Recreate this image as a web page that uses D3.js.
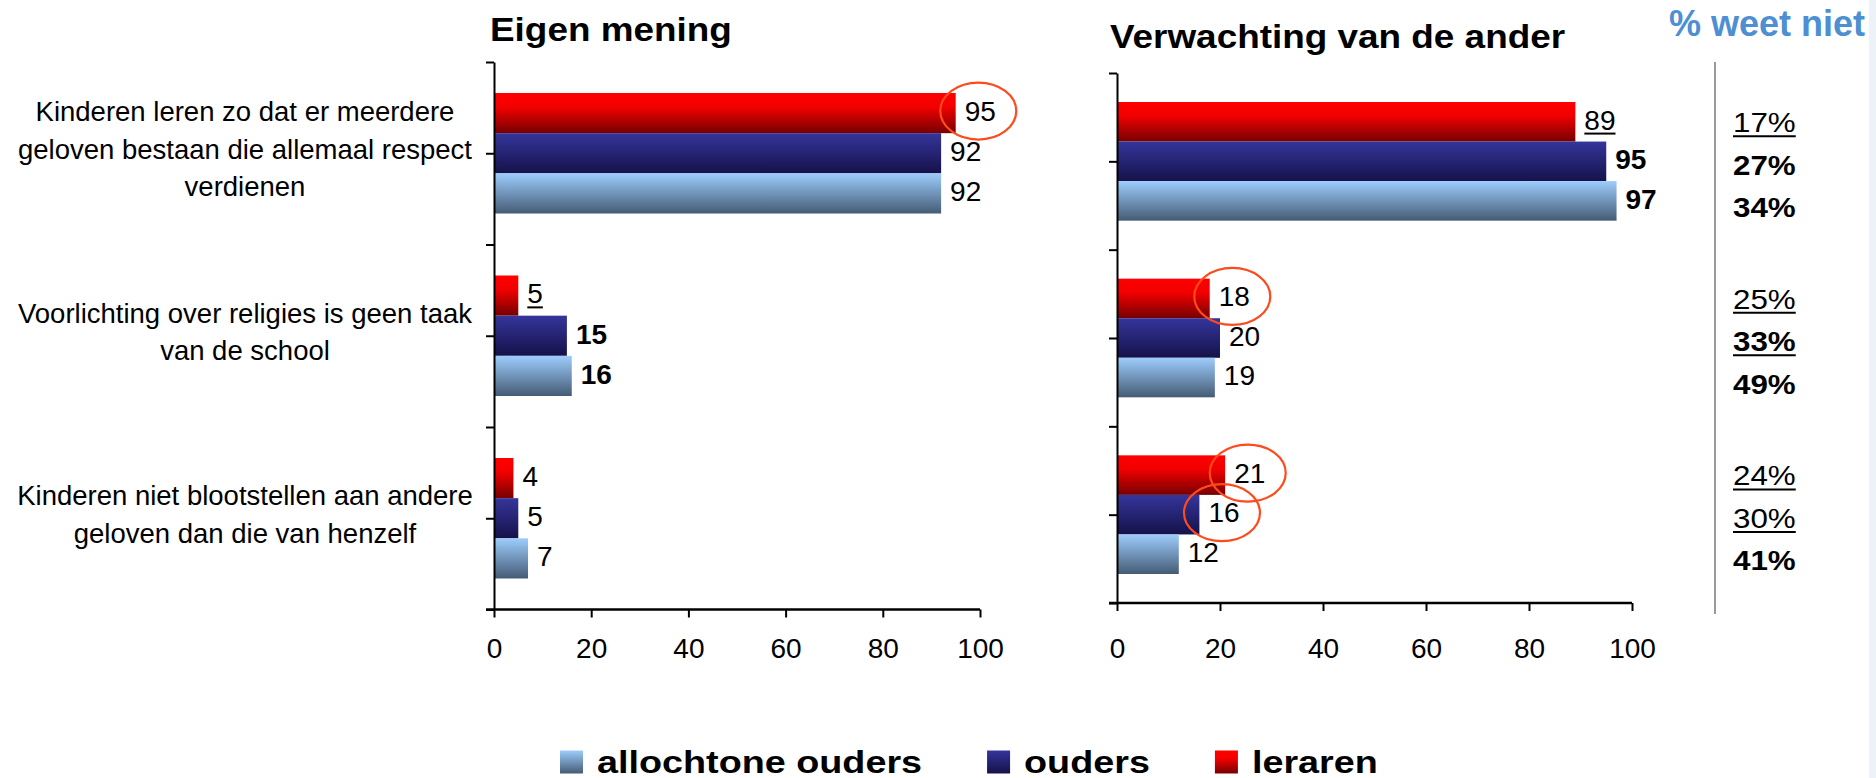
<!DOCTYPE html>
<html>
<head>
<meta charset="utf-8">
<script src="https://cdn.jsdelivr.net/npm/d3@7"></script>
<style>
  body { margin: 0; background: #fff; }
  svg { display: block; }
  text { font-family: Arial, "Liberation Sans", sans-serif; }
</style>
</head>
<body>
<svg id="main" width="1876" height="778"></svg>
<script>
// categories, one entry per row, split in the lines shown on the left
var categories = [
    ["Kinderen leren zo dat er meerdere", "geloven bestaan die allemaal respect", "verdienen"],
    ["Voorlichting over religies is geen taak", "van de school"],
    ["Kinderen niet blootstellen aan andere", "geloven dan die van henzelf"]
]
// series, top to bottom inside a group
var series = ["leraren", "ouders", "allochtone ouders"]
var legendOrder = ["allochtone ouders", "ouders", "leraren"]

// Eigen mening
var eigenLeraren = [95, 5, 4]
var eigenOuders = [92, 15, 5]
var eigenAllochtoon = [92, 16, 7]
// Verwachting van de ander
var verwLeraren = [89, 18, 21]
var verwOuders = [95, 20, 16]
var verwAllochtoon = [97, 19, 12]
// % weet niet
var weetLeraren = [17, 25, 24]
var weetOuders = [27, 33, 30]
var weetAllochtoon = [34, 49, 41]

var xTicks = [0, 20, 40, 60, 80, 100]

// label emphasis, "category-series"
var eigenBold = ["1-1", "1-2"], eigenUnder = ["1-0"], eigenCircle = ["0-0"]
var verwBold = ["0-1", "0-2"], verwUnder = ["0-0"], verwCircle = ["1-0", "2-0", "2-1"]
var weetBold = ["0-1", "0-2", "1-1", "1-2", "2-2"], weetUnder = ["0-0", "1-0", "1-1", "2-0", "2-1"]

var svg = d3.select('#main')
var defs = svg.append('defs')
var gradStops = [
    [[0, '#ff0000'], [0.35, '#f20000'], [1, '#760000']],
    [[0, '#35359b'], [1, '#15124a']],
    [[0, '#9dcdfd'], [1, '#455b75']]
]
series.forEach(function(s, i) {
    var lg = defs.append('linearGradient').attr('id', 'grad' + i)
        .attr('x1', 0).attr('y1', 0).attr('x2', 0).attr('y2', 1)
    gradStops[i].forEach(function(st) {
        lg.append('stop').attr('offset', st[0]).attr('stop-color', st[1])
    })
})

function label(parent, x, y, txt, opt) {
    var sx = opt.sx || 1
    var g = parent.append('g').attr('transform', 'translate(' + x + ',' + y + ') scale(' + sx + ',1)')
    var t = g.append('text')
        .attr('font-size', opt.size)
        .attr('font-weight', opt.bold ? 'bold' : 'normal')
        .attr('dy', opt.dy == null ? '0.35em' : opt.dy)
        .attr('fill', opt.color || '#000')
        .text(txt)
    var w = t.node().getComputedTextLength()
    if (opt.underline) {
        var uy = (opt.dy == null ? opt.size * 0.35 : 0) + 4
        g.append('line').attr('x1', 0).attr('x2', w).attr('y1', uy).attr('y2', uy)
            .attr('stroke', '#000').attr('stroke-width', 2)
    }
    return w * sx
}

function drawPanel(p) {
    var g = svg.append('g')
    var x = d3.scaleLinear().domain([0, 100]).range([p.left, p.right])
    var y0 = d3.scaleBand().domain(d3.range(categories.length)).range([p.top, p.bottom])
    var bw = y0.bandwidth()
    var y1 = d3.scaleBand().domain(series).range([p.pad, bw - p.pad])

    label(g, p.titleX, p.titleY, p.title, { size: 34, bold: true, sx: 1.085, dy: 0 })

    // bars
    categories.forEach(function(_, i) {
        series.forEach(function(s, j) {
            var v = p.values[j][i]
            g.append('rect')
                .attr('x', x(0))
                .attr('y', y0(i) + y1(s))
                .attr('width', x(v) - x(0))
                .attr('height', y1.bandwidth())
                .attr('fill', 'url(#grad' + j + ')')
        })
    })

    // y axis: ticks at band edges and centres
    var yl = d3.scaleLinear().domain([0, categories.length]).range([p.top, p.bottom])
    g.append('g').attr('transform', 'translate(' + x(0) + ',0)')
        .call(d3.axisLeft(yl).tickValues(d3.range(0, categories.length + 0.01, 0.5)).tickSize(8).tickSizeOuter(0).tickFormat(''))
        .call(function(a) {
            a.select('.domain').attr('stroke-width', 2)
            a.selectAll('.tick line').attr('stroke-width', 2)
        })

    // x axis
    g.append('g').attr('transform', 'translate(0,' + p.bottom + ')')
        .call(d3.axisBottom(x).tickValues(xTicks).tickSize(8).tickSizeOuter(0).tickPadding(p.tickPad))
        .call(function(a) {
            a.select('.domain').remove()
            a.selectAll('.tick line').attr('stroke-width', 2)
            a.selectAll('text').attr('font-size', 28).attr('font-family', 'Arial, "Liberation Sans", sans-serif')
        })
    g.append('line').attr('x1', x(0) - 8).attr('x2', x(100)).attr('y1', p.bottom).attr('y2', p.bottom)
        .attr('stroke', '#000').attr('stroke-width', 2.5)

    // value labels
    var circles = []
    categories.forEach(function(_, i) {
        series.forEach(function(s, j) {
            var v = p.values[j][i]
            var key = i + '-' + j
            var lx = x(v) + 9
            var cy = y0(i) + y1(s) + y1.bandwidth() / 2 - 2
            var w = label(g, lx, cy, v, {
                size: 28,
                bold: p.bold.indexOf(key) !== -1,
                underline: p.under.indexOf(key) !== -1
            })
            if (p.circle.indexOf(key) !== -1) circles.push([lx + w / 2 - 2, cy])
        })
    })
    g.selectAll('ellipse').data(circles).enter().append('ellipse')
        .attr('cx', function(d) { return d[0] })
        .attr('cy', function(d) { return d[1] })
        .attr('rx', 38).attr('ry', 28.5)
        .attr('fill', 'none').attr('stroke', '#ff4a1c').attr('stroke-width', 2.2)

    return y0
}

var left = drawPanel({
    title: "Eigen mening", titleX: 490, titleY: 41,
    left: 494, right: 980, top: 62, bottom: 609.5, pad: 31, tickPad: 21,
    values: [eigenLeraren, eigenOuders, eigenAllochtoon],
    bold: eigenBold, under: eigenUnder, circle: eigenCircle
})
var right = drawPanel({
    title: "Verwachting van de ander", titleX: 1110, titleY: 48,
    left: 1117, right: 1632, top: 73, bottom: 603, pad: 29, tickPad: 27,
    values: [verwLeraren, verwOuders, verwAllochtoon],
    bold: verwBold, under: verwUnder, circle: verwCircle
})

// category labels
var catG = svg.append('g')
categories.forEach(function(lines, i) {
    var cy = left(i) + left.bandwidth() / 2
    var t = catG.append('text').attr('text-anchor', 'middle').attr('font-size', 27.5)
    lines.forEach(function(line, k) {
        t.append('tspan').attr('x', 245)
            .attr('y', cy + (k - (lines.length - 1) / 2) * 37.5)
            .attr('dy', '0.2em')
            .text(line)
    })
})

// % weet niet column
var weet = [weetLeraren, weetOuders, weetAllochtoon]
var rowOff = d3.scalePoint().domain(series).range([-39, 46])
var wg = svg.append('g')
label(wg, 1669, 36, "% weet niet", { size: 36, bold: true, dy: 0, color: '#4d8fd2' })
wg.append('line').attr('x1', 1715).attr('x2', 1715).attr('y1', 62).attr('y2', 614)
    .attr('stroke', '#9a9a9a').attr('stroke-width', 2)
categories.forEach(function(_, i) {
    series.forEach(function(s, j) {
        var key = i + '-' + j
        label(wg, 1733, right(i) + right.bandwidth() / 2 + rowOff(s), weet[j][i] + '%', {
            size: 28, sx: 1.12,
            bold: weetBold.indexOf(key) !== -1,
            underline: weetUnder.indexOf(key) !== -1
        })
    })
})

// legend
var lg = svg.append('g')
var lx = 560
legendOrder.forEach(function(s) {
    var j = series.indexOf(s)
    lg.append('rect').attr('x', lx).attr('y', 750.5).attr('width', 23).attr('height', 23)
        .attr('fill', 'url(#grad' + j + ')')
    var w = label(lg, lx + 37, 773, s, { size: 32, bold: true, sx: 1.18, dy: 0 })
    lx += 37 + w + 65
})

// light strip at the right edge
svg.append('rect').attr('x', 1869).attr('y', 0).attr('width', 7).attr('height', 778).attr('fill', '#edf2f9')
</script>
</body>
</html>
